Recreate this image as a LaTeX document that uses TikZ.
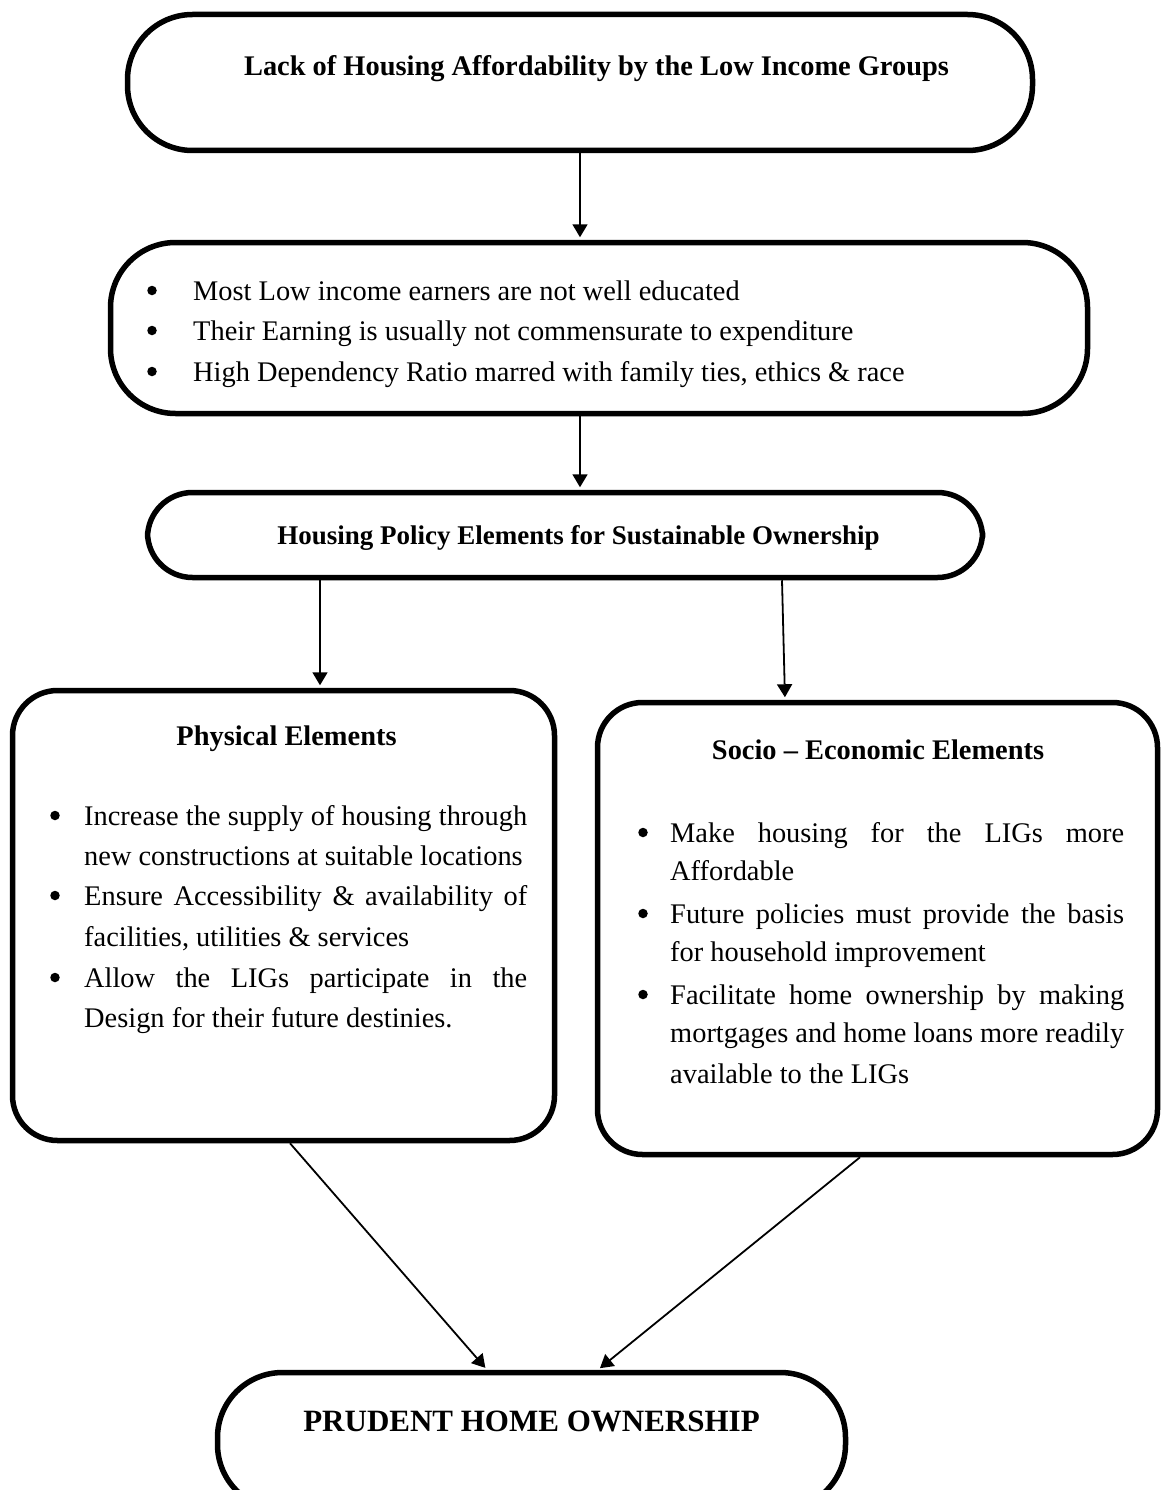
\documentclass[tikz,border=0pt]{standalone}
\usepackage{fontspec}
\setmainfont{Liberation Serif}
\usetikzlibrary{arrows.meta}
\tikzset{
  roundbox/.style={draw, line width=5.5pt, rounded corners=#1, inner sep=0pt},
  arr/.style={line width=1.8pt, -{Triangle[length=13pt,width=15pt]}, shorten >=2.5pt},
  txt/.style={anchor=base west, inner sep=0pt, font=\fontsize{28.4}{34}\selectfont},
  bul/.style={circle, fill=black, inner sep=0pt, minimum size=9.5pt},
  ttl/.style={anchor=base, inner sep=0pt, font=\fontsize{28.4}{34}\selectfont\bfseries},
}
\begin{document}
\begin{tikzpicture}[x=1pt,y=-1pt]
\useasboundingbox (0,0) rectangle (1163,1490);
\clip (0,0) rectangle (1163,1490);
% boxes
\node[roundbox=65pt, minimum width=905pt, minimum height=136pt] (b1) at (580,82.5) {};
\node[roundbox=65pt, minimum width=977pt, minimum height=171pt] (b2) at (599,328) {};
\node[roundbox=45pt, minimum width=835pt, minimum height=85pt] (b3) at (565,535) {};
\node[roundbox=45pt, minimum width=542pt, minimum height=450pt] (b4) at (283.5,915.5) {};
\node[roundbox=45pt, minimum width=560pt, minimum height=452pt] (b5) at (877.5,928.5) {};
\node[roundbox=65pt, minimum width=628pt, minimum height=137pt] (b6) at (531.5,1441) {};
% texts
\node[ttl] (t1) at (596.5,76) {Lack of Housing Affordability by the Low Income Groups};
\node[bul] (b2d1) at (152,290.5) {};
\node[bul] (b2d2) at (152,330.5) {};
\node[bul] (b2d3) at (152,371.5) {};
\node[txt] (b2l1) at (193,300) {Most Low income earners are not well educated};
\node[txt] (b2l2) at (193,340) {Their Earning is usually not commensurate to expenditure};
\node[txt] (b2l3) at (193,381) {High Dependency Ratio marred with family ties, ethics \& race};
\node[ttl, font=\fontsize{27}{32}\selectfont\bfseries] (t3) at (578.5,544) {Housing Policy Elements for Sustainable Ownership};
\node[ttl] (t4) at (286.5,745) {Physical Elements};
\node[bul] (b4d1) at (55,815.5) {};
\node[bul] (b4d2) at (55,895.5) {};
\node[bul] (b4d3) at (55,977.5) {};
\node[txt] (b4l1) at (84,825) {\makebox[443pt][s]{Increase the supply of housing through}};
\node[txt] (b4l2) at (84,865) {new constructions at suitable locations};
\node[txt] (b4l3) at (84,905) {\makebox[443pt][s]{Ensure Accessibility \& availability of}};
\node[txt] (b4l4) at (84,946) {facilities, utilities \& services};
\node[txt] (b4l5) at (84,987) {\makebox[443pt][s]{Allow the LIGs participate in the}};
\node[txt] (b4l6) at (84,1027) {Design for their future destinies.};
\node[ttl] (t5) at (878,759) {Socio – Economic Elements};
\node[bul] (b5d1) at (643,832.5) {};
\node[bul] (b5d2) at (643,913.5) {};
\node[bul] (b5d3) at (643,994.5) {};
\node[txt] (b5l1) at (670,842) {\makebox[454pt][s]{Make housing for the LIGs more}};
\node[txt] (b5l2) at (670,880) {Affordable};
\node[txt] (b5l3) at (670,923) {\makebox[454pt][s]{Future policies must provide the basis}};
\node[txt] (b5l4) at (670,961) {for household improvement};
\node[txt] (b5l5) at (670,1004) {\makebox[454pt][s]{Facilitate home ownership by making}};
\node[txt] (b5l6) at (670,1042) {\makebox[454pt][s]{mortgages and home loans more readily}};
\node[txt] (b5l7) at (670,1083) {available to the LIGs};
\node[ttl, font=\fontsize{31}{36}\selectfont\bfseries] (t6) at (531.5,1431) {PRUDENT HOME OWNERSHIP};
% connector anchors
\coordinate (x1) at (580,0);
\coordinate (x3) at (320,0);
\coordinate (x4a) at (782,0);
\coordinate (x4b) at (785,0);
\coordinate (x5a) at (290,0);
\coordinate (x5b) at (487,0);
\coordinate (x6a) at (860,0);
\coordinate (x6b) at (598,0);
% connectors
\draw[arr] (b1.south -| x1) -- (b2.north -| x1);
\draw[arr] (b2.south -| x1) -- (b3.north -| x1);
\draw[arr] (b3.south -| x3) -- (b4.north -| x3);
\draw[arr] (b3.south -| x4a) -- (b5.north -| x4b);
\draw[arr] (b4.south -| x5a) -- (b6.north -| x5b);
\draw[arr] (b5.south -| x6a) -- (b6.north -| x6b);
\end{tikzpicture}
\end{document}
